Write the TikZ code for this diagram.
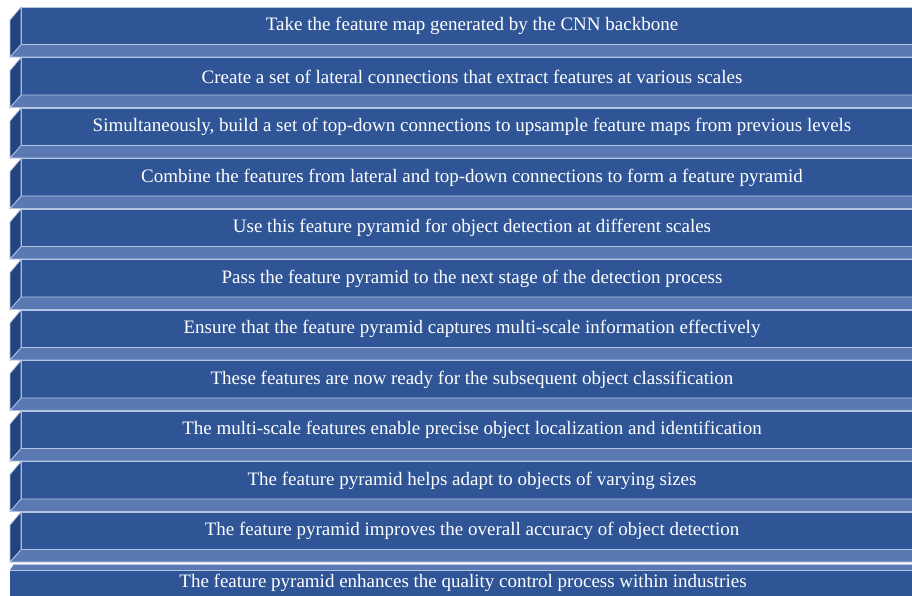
\documentclass[tikz,border=0pt]{standalone}
\usepackage{fontspec}
\setmainfont{Liberation Serif}
\definecolor{frontc}{HTML}{2F5597}
\definecolor{bevelc}{HTML}{5A79B2}
\definecolor{sidec}{HTML}{22457F}
\definecolor{edgec}{HTML}{B4C5E4}
\begin{document}
\begin{tikzpicture}[x=1pt,y=-1pt,
  bevel/.style={fill=bevelc,draw=edgec,line width=0.8pt},
  side/.style={fill=sidec,draw=edgec,line width=0.8pt},
  lbl/.style={text=white,font=\fontsize{19}{22}\selectfont,inner sep=0pt}]
\useasboundingbox (0,0) rectangle (912,595);
\foreach \i/\t in {0/Take the feature map generated by the CNN backbone,
  1/Create a set of lateral connections that extract features at various scales,
  2/{Simultaneously, build a set of top-down connections to upsample feature maps from previous levels},
  3/Combine the features from lateral and top-down connections to form a feature pyramid,
  4/Use this feature pyramid for object detection at different scales,
  5/Pass the feature pyramid to the next stage of the detection process,
  6/Ensure that the feature pyramid captures multi-scale information effectively,
  7/These features are now ready for the subsequent object classification,
  8/The multi-scale features enable precise object localization and identification,
  9/The feature pyramid helps adapt to objects of varying sizes,
  10/The feature pyramid improves the overall accuracy of object detection}{
  \pgfmathsetmacro{\T}{7+50.5*\i}
  \fill[frontc] (21,\T) rectangle (913,\T+37.5);
  \draw[edgec,line width=0.8pt] (913,\T) -- (21,\T) -- (21,\T+37.5) -- (913,\T+37.5);
  \draw[bevel] (21,\T+37.5) -- (913,\T+37.5) -- (913,\T+50) -- (10,\T+50) -- cycle;
  \draw[side] (10,\T+13) -- (21,\T) -- (21,\T+37.5) -- (10,\T+50) -- cycle;
  \node[lbl] (t\i) at (472,\T+19) {\t};
}
\fill[bevelc] (10,570) -- (14,564) -- (913,564) -- (913,570) -- cycle;
\draw[edgec,line width=0.8pt] (14,564) -- (913,564);
\fill[frontc] (10,570) rectangle (913,596);
\draw[edgec,line width=0.8pt] (10,570) -- (913,570);
\node[lbl] (t11) at (463,583) {The feature pyramid enhances the quality control process within industries};
\end{tikzpicture}
\end{document}
